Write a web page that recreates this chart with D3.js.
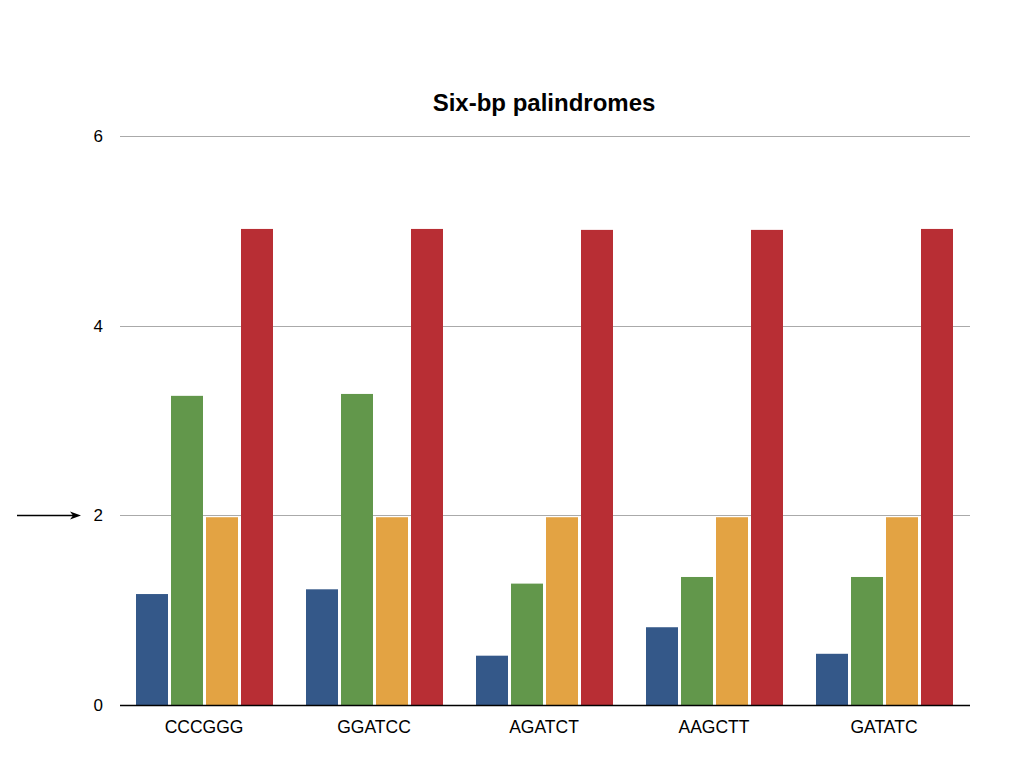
<!DOCTYPE html>
<html><head><meta charset="utf-8">
<script src="https://cdn.jsdelivr.net/npm/d3@7"></script>
<style>body{margin:0;background:#fff;} svg{display:block;}</style>
</head><body>
<svg id="c" width="1024" height="768"></svg>
<script>
const categories = ["CCCGGG", "GGATCC", "AGATCT", "AAGCTT", "GATATC"];
const seriesNames = ["A", "B", "C", "D"];
const seriesA = [1.17, 1.22, 0.52, 0.82, 0.54];
const seriesB = [3.26, 3.28, 1.28, 1.35, 1.35];
const seriesC = [1.98, 1.98, 1.98, 1.98, 1.98];
const seriesD = [5.02, 5.02, 5.01, 5.01, 5.02];
const seriesColors = ["#345889", "#62974b", "#e3a343", "#b82e34"];
const yTicks = [0, 2, 4, 6];
const arrowValue = 2;
const title = "Six-bp palindromes";

(function () {
const allSeries = [seriesA, seriesB, seriesC, seriesD];
const svg = d3.select("#c");
const pl = 120, pr = 970, pt = 136, pb = 705;
const font = "'Liberation Sans', Arial, Helvetica, sans-serif";

const x0 = d3.scaleBand().domain(categories).range([pl, pr]).padding(0);
const x1 = d3.scaleBand().domain(seriesNames).range([16, 153]).paddingInner(3/35).paddingOuter(0);
const y = d3.scaleLinear().domain([0, 6]).range([pb, pt]);

// gridlines
svg.append("g").selectAll("line").data(yTicks.filter(t => t !== 0)).join("line")
  .attr("x1", pl).attr("x2", pr)
  .attr("y1", d => Math.round(y(d)) + 0.5).attr("y2", d => Math.round(y(d)) + 0.5)
  .attr("stroke", "#aaaaaa").attr("stroke-width", 1);

// bars
const groups = svg.append("g").selectAll("g").data(categories).join("g")
  .attr("transform", d => `translate(${x0(d)},0)`);
groups.selectAll("rect").data((d, i) => seriesNames.map((s, j) => ({s, v: allSeries[j][i], c: seriesColors[j]})))
  .join("rect")
  .attr("x", d => x1(d.s)).attr("width", x1.bandwidth())
  .attr("y", d => y(d.v)).attr("height", d => y(0) - y(d.v))
  .attr("fill", d => d.c);

// baseline
svg.append("line").attr("x1", pl).attr("x2", pr)
  .attr("y1", y(0) + 0.5).attr("y2", y(0) + 0.5)
  .attr("stroke", "#000").attr("stroke-width", 1.3);

// y tick labels
svg.append("g").selectAll("text").data(yTicks).join("text")
  .attr("x", 103).attr("y", d => y(d)).attr("dy", "0.36em")
  .attr("text-anchor", "end").attr("font-family", font).attr("font-size", 17)
  .attr("fill", "#000").text(d => d);

// x labels
svg.append("g").selectAll("text").data(categories).join("text")
  .attr("x", d => x0(d) + x0.bandwidth() / 2 - 1).attr("y", 733)
  .attr("text-anchor", "middle").attr("font-family", font).attr("font-size", 17.5)
  .attr("fill", "#000").text(d => d);

// title
svg.append("text").attr("x", (pl + pr) / 2 - 1).attr("y", 111)
  .attr("text-anchor", "middle").attr("font-family", font).attr("font-size", 24)
  .attr("font-weight", "bold").attr("fill", "#000").text(title);

// arrow
const ay = Math.round(y(arrowValue)) + 0.5;
svg.append("line").attr("x1", 17).attr("x2", 76).attr("y1", ay).attr("y2", ay)
  .attr("stroke", "#000").attr("stroke-width", 1.5);
svg.append("path").attr("d", `M81,${ay} L70,${ay-4} L73,${ay} L70,${ay+4} Z`).attr("fill", "#000");
})();
</script>
</body></html>
